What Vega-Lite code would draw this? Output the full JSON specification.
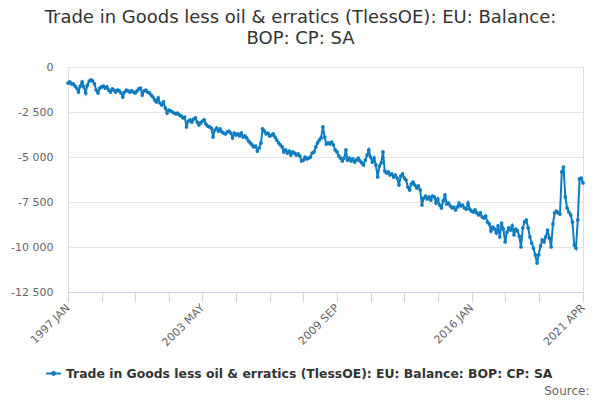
{
  "$schema": "https://vega.github.io/schema/vega-lite/v6.json",
  "width": 515,
  "height": 225,
  "autosize": "none",
  "padding": {"left": 68, "top": 67, "right": 17, "bottom": 108},
  "background": "white",
  "title": {
    "text": ["Trade in Goods less oil & erratics (TlessOE): EU: Balance:", "BOP: CP: SA"],
    "font": "DejaVu Sans", "fontSize": 18, "fontWeight": "normal", "color": "#333333",
    "anchor": "middle", "frame": "group", "dx": -25, "offset": 13, "lineHeight": 21
  },
  "data": {
    "format": {"parse": {"month": "utc:'%Y-%m'"}},
    "values": [
      {"month":"1997-01","value":-890},{"month":"1997-02","value":-830},{"month":"1997-03","value":-940},{"month":"1997-04","value":-940},{"month":"1997-05","value":-1060},{"month":"1997-06","value":-1170},{"month":"1997-07","value":-1390},{"month":"1997-08","value":-1060},{"month":"1997-09","value":-830},{"month":"1997-10","value":-1110},{"month":"1997-11","value":-1440},{"month":"1997-12","value":-1000},
      {"month":"1998-01","value":-780},{"month":"1998-02","value":-720},{"month":"1998-03","value":-780},{"month":"1998-04","value":-940},{"month":"1998-05","value":-1280},{"month":"1998-06","value":-1440},{"month":"1998-07","value":-1170},{"month":"1998-08","value":-1110},{"month":"1998-09","value":-1060},{"month":"1998-10","value":-1170},{"month":"1998-11","value":-1110},{"month":"1998-12","value":-1280},
      {"month":"1999-01","value":-1390},{"month":"1999-02","value":-1220},{"month":"1999-03","value":-1280},{"month":"1999-04","value":-1390},{"month":"1999-05","value":-1280},{"month":"1999-06","value":-1330},{"month":"1999-07","value":-1440},{"month":"1999-08","value":-1670},{"month":"1999-09","value":-1390},{"month":"1999-10","value":-1280},{"month":"1999-11","value":-1330},{"month":"1999-12","value":-1390},
      {"month":"2000-01","value":-1330},{"month":"2000-02","value":-1390},{"month":"2000-03","value":-1440},{"month":"2000-04","value":-1330},{"month":"2000-05","value":-1220},{"month":"2000-06","value":-1170},{"month":"2000-07","value":-1560},{"month":"2000-08","value":-1330},{"month":"2000-09","value":-1280},{"month":"2000-10","value":-1390},{"month":"2000-11","value":-1440},{"month":"2000-12","value":-1560},
      {"month":"2001-01","value":-1670},{"month":"2001-02","value":-1830},{"month":"2001-03","value":-1940},{"month":"2001-04","value":-1720},{"month":"2001-05","value":-2000},{"month":"2001-06","value":-2110},{"month":"2001-07","value":-1940},{"month":"2001-08","value":-2280},{"month":"2001-09","value":-2560},{"month":"2001-10","value":-2390},{"month":"2001-11","value":-2440},{"month":"2001-12","value":-2500},
      {"month":"2002-01","value":-2560},{"month":"2002-02","value":-2610},{"month":"2002-03","value":-2560},{"month":"2002-04","value":-2670},{"month":"2002-05","value":-2720},{"month":"2002-06","value":-2830},{"month":"2002-07","value":-2780},{"month":"2002-08","value":-3330},{"month":"2002-09","value":-3000},{"month":"2002-10","value":-2940},{"month":"2002-11","value":-3060},{"month":"2002-12","value":-2890},
      {"month":"2003-01","value":-2830},{"month":"2003-02","value":-3060},{"month":"2003-03","value":-3220},{"month":"2003-04","value":-3110},{"month":"2003-05","value":-3000},{"month":"2003-06","value":-2940},{"month":"2003-07","value":-3170},{"month":"2003-08","value":-3280},{"month":"2003-09","value":-3330},{"month":"2003-10","value":-3390},{"month":"2003-11","value":-3890},{"month":"2003-12","value":-3500},
      {"month":"2004-01","value":-3390},{"month":"2004-02","value":-3560},{"month":"2004-03","value":-3440},{"month":"2004-04","value":-3610},{"month":"2004-05","value":-3670},{"month":"2004-06","value":-3720},{"month":"2004-07","value":-3610},{"month":"2004-08","value":-3560},{"month":"2004-09","value":-3670},{"month":"2004-10","value":-3940},{"month":"2004-11","value":-3670},{"month":"2004-12","value":-3780},
      {"month":"2005-01","value":-3720},{"month":"2005-02","value":-3830},{"month":"2005-03","value":-3670},{"month":"2005-04","value":-3890},{"month":"2005-05","value":-3830},{"month":"2005-06","value":-3940},{"month":"2005-07","value":-4110},{"month":"2005-08","value":-4220},{"month":"2005-09","value":-4330},{"month":"2005-10","value":-4440},{"month":"2005-11","value":-4390},{"month":"2005-12","value":-4670},
      {"month":"2006-01","value":-4500},{"month":"2006-02","value":-4220},{"month":"2006-03","value":-3440},{"month":"2006-04","value":-3560},{"month":"2006-05","value":-3720},{"month":"2006-06","value":-3670},{"month":"2006-07","value":-3830},{"month":"2006-08","value":-3780},{"month":"2006-09","value":-3720},{"month":"2006-10","value":-3890},{"month":"2006-11","value":-4060},{"month":"2006-12","value":-4220},
      {"month":"2007-01","value":-4330},{"month":"2007-02","value":-4440},{"month":"2007-03","value":-4720},{"month":"2007-04","value":-4610},{"month":"2007-05","value":-4780},{"month":"2007-06","value":-4670},{"month":"2007-07","value":-4890},{"month":"2007-08","value":-4720},{"month":"2007-09","value":-4780},{"month":"2007-10","value":-4890},{"month":"2007-11","value":-4830},{"month":"2007-12","value":-4940},
      {"month":"2008-01","value":-5220},{"month":"2008-02","value":-5170},{"month":"2008-03","value":-5000},{"month":"2008-04","value":-5110},{"month":"2008-05","value":-5060},{"month":"2008-06","value":-5000},{"month":"2008-07","value":-4780},{"month":"2008-08","value":-4720},{"month":"2008-09","value":-4440},{"month":"2008-10","value":-4220},{"month":"2008-11","value":-4060},{"month":"2008-12","value":-3940},
      {"month":"2009-01","value":-3330},{"month":"2009-02","value":-3890},{"month":"2009-03","value":-4280},{"month":"2009-04","value":-4220},{"month":"2009-05","value":-4280},{"month":"2009-06","value":-4170},{"month":"2009-07","value":-4330},{"month":"2009-08","value":-4610},{"month":"2009-09","value":-4720},{"month":"2009-10","value":-4940},{"month":"2009-11","value":-5060},{"month":"2009-12","value":-5220},
      {"month":"2010-01","value":-5060},{"month":"2010-02","value":-4610},{"month":"2010-03","value":-5170},{"month":"2010-04","value":-5060},{"month":"2010-05","value":-5220},{"month":"2010-06","value":-5110},{"month":"2010-07","value":-5280},{"month":"2010-08","value":-5170},{"month":"2010-09","value":-5060},{"month":"2010-10","value":-5220},{"month":"2010-11","value":-5330},{"month":"2010-12","value":-5440},
      {"month":"2011-01","value":-5170},{"month":"2011-02","value":-4890},{"month":"2011-03","value":-4610},{"month":"2011-04","value":-5000},{"month":"2011-05","value":-5280},{"month":"2011-06","value":-5060},{"month":"2011-07","value":-5440},{"month":"2011-08","value":-6110},{"month":"2011-09","value":-5500},{"month":"2011-10","value":-5330},{"month":"2011-11","value":-4720},{"month":"2011-12","value":-5780},
      {"month":"2012-01","value":-5890},{"month":"2012-02","value":-5830},{"month":"2012-03","value":-6000},{"month":"2012-04","value":-5940},{"month":"2012-05","value":-6110},{"month":"2012-06","value":-6000},{"month":"2012-07","value":-6170},{"month":"2012-08","value":-6560},{"month":"2012-09","value":-6060},{"month":"2012-10","value":-5940},{"month":"2012-11","value":-6170},{"month":"2012-12","value":-6280},
      {"month":"2013-01","value":-6670},{"month":"2013-02","value":-6830},{"month":"2013-03","value":-6500},{"month":"2013-04","value":-6390},{"month":"2013-05","value":-6560},{"month":"2013-06","value":-6720},{"month":"2013-07","value":-6610},{"month":"2013-08","value":-6830},{"month":"2013-09","value":-7670},{"month":"2013-10","value":-7280},{"month":"2013-11","value":-7170},{"month":"2013-12","value":-7330},
      {"month":"2014-01","value":-7220},{"month":"2014-02","value":-7390},{"month":"2014-03","value":-7170},{"month":"2014-04","value":-7220},{"month":"2014-05","value":-7560},{"month":"2014-06","value":-7330},{"month":"2014-07","value":-7670},{"month":"2014-08","value":-7830},{"month":"2014-09","value":-7440},{"month":"2014-10","value":-7110},{"month":"2014-11","value":-7610},{"month":"2014-12","value":-7560},
      {"month":"2015-01","value":-7720},{"month":"2015-02","value":-7830},{"month":"2015-03","value":-7780},{"month":"2015-04","value":-7940},{"month":"2015-05","value":-7780},{"month":"2015-06","value":-7560},{"month":"2015-07","value":-7720},{"month":"2015-08","value":-7670},{"month":"2015-09","value":-7830},{"month":"2015-10","value":-7890},{"month":"2015-11","value":-7560},{"month":"2015-12","value":-7890},
      {"month":"2016-01","value":-8000},{"month":"2016-02","value":-8060},{"month":"2016-03","value":-7940},{"month":"2016-04","value":-8110},{"month":"2016-05","value":-8220},{"month":"2016-06","value":-8110},{"month":"2016-07","value":-8330},{"month":"2016-08","value":-8390},{"month":"2016-09","value":-8280},{"month":"2016-10","value":-8610},{"month":"2016-11","value":-8720},{"month":"2016-12","value":-9110},
      {"month":"2017-01","value":-8890},{"month":"2017-02","value":-9000},{"month":"2017-03","value":-9220},{"month":"2017-04","value":-8830},{"month":"2017-05","value":-9440},{"month":"2017-06","value":-8670},{"month":"2017-07","value":-9000},{"month":"2017-08","value":-9720},{"month":"2017-09","value":-9170},{"month":"2017-10","value":-8940},{"month":"2017-11","value":-9060},{"month":"2017-12","value":-8830},
      {"month":"2018-01","value":-9330},{"month":"2018-02","value":-9000},{"month":"2018-03","value":-9110},{"month":"2018-04","value":-9390},{"month":"2018-05","value":-10000},{"month":"2018-06","value":-8940},{"month":"2018-07","value":-8610},{"month":"2018-08","value":-8500},{"month":"2018-09","value":-8940},{"month":"2018-10","value":-9440},{"month":"2018-11","value":-9780},{"month":"2018-12","value":-10060},
      {"month":"2019-01","value":-10440},{"month":"2019-02","value":-10890},{"month":"2019-03","value":-10440},{"month":"2019-04","value":-9940},{"month":"2019-05","value":-9610},{"month":"2019-06","value":-9720},{"month":"2019-07","value":-9440},{"month":"2019-08","value":-9060},{"month":"2019-09","value":-9500},{"month":"2019-10","value":-10000},{"month":"2019-11","value":-8720},{"month":"2019-12","value":-8110},
      {"month":"2020-01","value":-8000},{"month":"2020-02","value":-8110},{"month":"2020-03","value":-8170},{"month":"2020-04","value":-5830},{"month":"2020-05","value":-5560},{"month":"2020-06","value":-7220},{"month":"2020-07","value":-7830},{"month":"2020-08","value":-8060},{"month":"2020-09","value":-8220},{"month":"2020-10","value":-8610},{"month":"2020-11","value":-9890},{"month":"2020-12","value":-10060},
      {"month":"2021-01","value":-8500},{"month":"2021-02","value":-6220},{"month":"2021-03","value":-6170},{"month":"2021-04","value":-6440}
    ]
  },
  "mark": {"type": "line", "strokeWidth": 2, "point": {"filled": true, "size": 14}},
  "encoding": {
    "x": {
      "field": "month", "type": "temporal",
      "scale": {"type": "utc", "nice": false, "domain": [{"year": 1997, "month": 1, "date": 1, "utc": true}, {"year": 2021, "month": 4, "date": 1, "utc": true}]},
      "axis": {
        "values": [
          {"year": 1997, "month": 1, "date": 1, "utc": true}, {"year": 1998, "month": 8, "date": 1, "utc": true},
          {"year": 2000, "month": 3, "date": 1, "utc": true}, {"year": 2001, "month": 10, "date": 1, "utc": true},
          {"year": 2003, "month": 5, "date": 1, "utc": true}, {"year": 2004, "month": 12, "date": 1, "utc": true},
          {"year": 2006, "month": 7, "date": 1, "utc": true}, {"year": 2008, "month": 2, "date": 1, "utc": true},
          {"year": 2009, "month": 9, "date": 1, "utc": true}, {"year": 2011, "month": 4, "date": 1, "utc": true},
          {"year": 2012, "month": 11, "date": 1, "utc": true}, {"year": 2014, "month": 6, "date": 1, "utc": true},
          {"year": 2016, "month": 1, "date": 1, "utc": true}, {"year": 2017, "month": 8, "date": 1, "utc": true},
          {"year": 2019, "month": 3, "date": 1, "utc": true}, {"year": 2021, "month": 4, "date": 1, "utc": true}
        ],
        "labelExpr": "((utcyear(datum.value) * 12 + utcmonth(datum.value) - 23964) % 76 == 0 || (utcyear(datum.value) * 12 + utcmonth(datum.value) - 23964) == 291) ? upper(utcFormat(datum.value, '%Y %b')) : ''",
        "labelAngle": -45, "labelAlign": "right", "labelBaseline": "middle", "labelPadding": 4,
        "labelFont": "DejaVu Sans", "labelFontSize": 11, "labelColor": "#666666",
        "labelOverlap": false, "labelBound": false, "labelFlush": false,
        "grid": false, "tickColor": "#ccd6eb", "domainColor": "#ccd6eb", "tickSize": 10,
        "title": "Source:", "titleFont": "DejaVu Sans", "titleFontSize": 12, "titleFontWeight": "normal",
        "titleColor": "#666666", "titleAnchor": "end", "titleAlign": "right", "titleBaseline": "alphabetic",
        "titleX": 521, "titleY": 102
      }
    },
    "y": {
      "field": "value", "type": "quantitative",
      "scale": {"domain": [-12500, 0], "nice": false, "zero": false},
      "axis": {
        "values": [0, -2500, -5000, -7500, -10000, -12500],
        "labelExpr": "replace(replace(format(datum.value, ','), ',', ' '), '\u2212', '-')",
        "grid": true, "gridColor": "#e6e6e6", "domain": false, "ticks": false, "labelPadding": 15,
        "labelFont": "DejaVu Sans", "labelFontSize": 11, "labelColor": "#666666", "title": null
      }
    },
    "color": {
      "datum": "Trade in Goods less oil & erratics (TlessOE): EU: Balance: BOP: CP: SA",
      "scale": {"range": ["#0f7cc0"]},
      "legend": {
        "title": null, "orient": "none", "legendX": -23, "legendY": 298,
        "symbolType": "M -1 0 L 1 0 M 0.2 0 A 0.2 0.2 0 1 1 -0.2 0 A 0.2 0.2 0 1 1 0.2 0",
        "symbolSize": 220, "symbolStrokeWidth": 2, "symbolFillColor": "#0f7cc0", "symbolStrokeColor": "#0f7cc0",
        "labelFont": "DejaVu Sans", "labelFontSize": 12.4, "labelFontWeight": "bold", "labelColor": "#333333",
        "labelLimit": 700
      }
    }
  }
}
